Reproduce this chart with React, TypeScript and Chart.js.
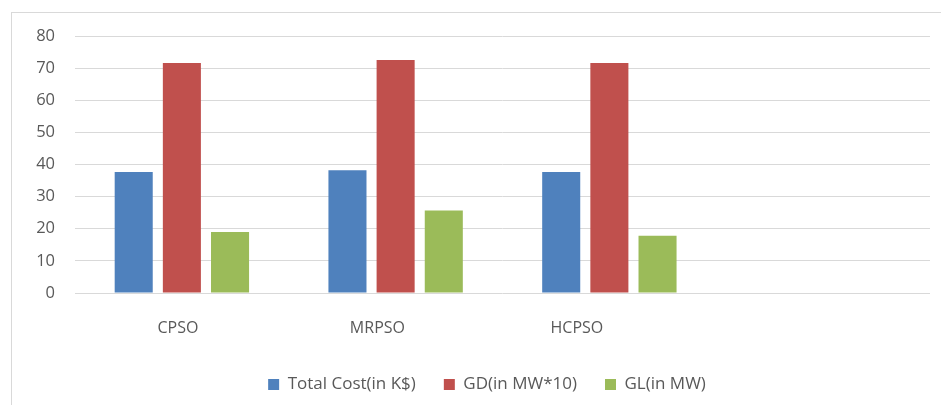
import React, { useEffect, useRef } from "react";
import { Chart, registerables } from "chart.js";

Chart.register(...registerables);

const categories = ["CPSO", "MRPSO", "HCPSO", ""];
const totalCost = [37.7, 38.2, 37.7, null];
const gd = [71.6, 72.5, 71.6, null];
const gl = [19.0, 25.7, 17.8, null];
const yTicks = [0, 10, 20, 30, 40, 50, 60, 70, 80];
const labelTicks = [0, 1, 2];

const FONT = "'Open Sans', sans-serif";
const TEXT = "#595959";

const legendShift = {
  id: "legendShift",
  afterLayout(chart: any) {
    const lg = chart.legend;
    if (!lg) return;
    lg.left += 22;
    lg.right += 22;
    lg.top += 3;
    lg.bottom += 3;
  },
};

export default function App() {
  const ref = useRef<HTMLCanvasElement | null>(null);

  useEffect(() => {
    document.body.style.margin = "0";
    const ctx = ref.current!;
    const chart = new Chart(ctx, {
      type: "bar",
      data: {
        labels: categories,
        datasets: [
          { label: "Total Cost(in K$)", data: totalCost, backgroundColor: "#4F81BD", xAxisID: "x" },
          { label: "GD(in MW*10)", data: gd, backgroundColor: "#C0504D", xAxisID: "x" },
          { label: "GL(in MW)", data: gl, backgroundColor: "#9BBB59", xAxisID: "x" },
        ],
      },
      plugins: [legendShift],
      options: {
        animation: false,
        responsive: false,
        maintainAspectRatio: false,
        devicePixelRatio: 1,
        layout: { padding: { left: 0, right: 38, top: 36, bottom: 5 } },
        datasets: {
          bar: { categoryPercentage: 0.676, barPercentage: 0.79 },
        },
        scales: {
          x: {
            grid: { display: false, drawTicks: false },
            border: { display: false },
            ticks: { display: false },
            afterFit: (s: any) => {
              s.height = 0;
            },
          },
          x2: {
            type: "linear",
            position: "bottom",
            offset: false,
            bounds: "data",
            min: -0.516,
            max: 3.77,
            afterBuildTicks: (s: any) => {
              s.ticks = labelTicks.map((v) => ({ value: v }));
            },
            grid: { display: false, drawTicks: false, offset: false },
            border: { display: false },
            ticks: {
              color: TEXT,
              font: { family: FONT, size: 16 },
              padding: 26,
              autoSkip: false,
              maxRotation: 0,
              callback: (v: any) => categories[v as number] ?? "",
            },
            afterFit: (s: any) => {
              s.height = 52;
            },
          },
          y: {
            min: 0,
            max: 80,
            afterBuildTicks: (s: any) => {
              s.ticks = yTicks.map((v) => ({ value: v }));
            },
            grid: { color: "#d9d9d9", lineWidth: 1, drawTicks: false },
            border: { display: false },
            ticks: { color: TEXT, font: { family: FONT, size: 16.5 }, padding: 20 },
            afterFit: (s: any) => {
              s.width = 75;
            },
          },
        },
        plugins: {
          tooltip: { enabled: false },
          legend: {
            position: "bottom",
            labels: {
              color: TEXT,
              font: { family: FONT, size: 17 },
              boxWidth: 11,
              boxHeight: 11,
              padding: 28,
            },
          },
        },
      },
    });
    return () => chart.destroy();
  }, []);

  return (
    <div style={{ position: "fixed", left: 0, top: 0, width: 941, height: 405, overflow: "hidden", background: "#fff" }}>
      <div
        style={{
          position: "absolute",
          left: 11,
          top: 12,
          width: 2000,
          height: 2000,
          border: "1px solid #d9d9d9",
        }}
      />
      <canvas ref={ref} width={968} height={405} style={{ position: "absolute", left: 0, top: 0, width: 968, height: 405 }} />
    </div>
  );
}
